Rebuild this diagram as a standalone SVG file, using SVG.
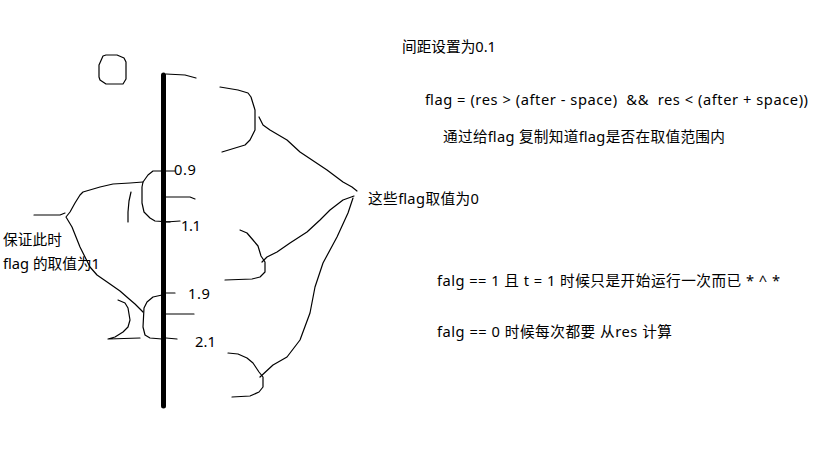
<svg xmlns="http://www.w3.org/2000/svg" width="819" height="460" viewBox="0 0 819 460">
<style>
.s{fill:none;stroke:#000;stroke-width:1.2;stroke-linejoin:round;stroke-linecap:round}
.t{font-family:"Noto Sans","Noto Sans CJK SC",sans-serif;font-size:14.67px;fill:#000;white-space:pre}
</style>
<rect width="819" height="460" fill="#fff"/>
<g id="circle">
<path class="s" d="M103,56 L106,55 L117,55 L124,58 L126,62 L126,79 L123,84 L106,84 L100,80 L99,77 L99,65 Z"/>
</g>
<g id="axis">
<line x1="163.5" y1="75" x2="163.5" y2="406" stroke="#000" stroke-width="5" stroke-linecap="round"/>
<path class="s" d="M166,74 L185,75 L196,78"/>
<path class="s" d="M166,171 L175,171"/>
<path class="s" d="M166,197 L190,197 L195,199"/>
<path class="s" d="M166,222 L180,221"/>
<path class="s" d="M166,293 L175,293"/>
<path class="s" d="M166,314 L194,314"/>
<path class="s" d="M166,338 L177,339"/>
</g>
<g id="labels-axis">
<text class="t" x="174" y="175" textLength="22" lengthAdjust="spacing">0.9</text>
<text class="t" x="181" y="231" textLength="20" lengthAdjust="spacing">1.1</text>
<text class="t" x="188" y="299" textLength="22" lengthAdjust="spacing">1.9</text>
<text class="t" x="195" y="347" textLength="21" lengthAdjust="spacing">2.1</text>
</g>
<g id="brackets">
<path class="s" d="M220,87 L238,90 L248,93 L251,97 L255,110 L255,130 L250,140 L245,145 L222,152"/>
<path class="s" d="M240,230 L247,233 L253,240 L258,246 L261,256 L265,262 L265,272 L260,277 L252,279 L225,280"/>
<path class="s" d="M228,353 L238,354 L247,358 L253,363 L259,372 L263,377 L263,387 L259,392 L250,396 L232,397"/>
<path class="s" d="M162,171 L153,171 L148,175 L143,182 L142,187 L142,203 L144,212 L150,218 L155,221 L170,222"/>
<path class="s" d="M162,295 L153,297 L147,302 L144,308 L143,327 L145,335 L150,338 L162,339"/>
<path class="s" d="M118,300 L125,303 L128,308 L130,320 L128,327 L123,332 L115,337 L108,339 L140,338"/>
<path class="s" d="M131,192 L129,201 L128,212 L128,222"/>
</g>
<g id="connectors">
<path class="s" d="M259,117 L263,125 L270,130 L287,140 L300,152 L312,160 L327,170 L343,182 L352,187 L357,191"/>
<path class="s" d="M354,196 L343,200 L330,210 L320,220 L307,232 L290,243 L277,252 L267,257 L262,262"/>
<path class="s" d="M353,198 L348,213 L337,237 L323,263 L315,287 L310,313 L300,340 L287,357 L273,365 L260,377"/>
<path class="s" d="M143,182 L130,183 L113,184 L100,187 L83,192 L80,195 L75,203 L70,212 L66,217 L72,227 L80,247 L90,267 L97,275 L110,284 L120,291 L128,298 L135,304 L143,312"/>
<path class="s" d="M34,215 L60,215 L65,213"/>
</g>
<g id="notes">
<text class="t" x="3" y="245" textLength="59" lengthAdjust="spacing">保证此时</text>
<text class="t" x="3" y="269" textLength="97" lengthAdjust="spacing">flag 的取值为1</text>
<text class="t" x="402" y="52" textLength="94" lengthAdjust="spacing">间距设置为0.1</text>
<text class="t" x="425" y="105" textLength="383" lengthAdjust="spacing">flag = (res &gt; (after - space)  &amp;&amp;  res &lt; (after + space))</text>
<text class="t" x="443" y="142" textLength="282" lengthAdjust="spacing">通过给flag 复制知道flag是否在取值范围内</text>
<text class="t" x="368" y="204" textLength="111" lengthAdjust="spacing">这些flag取值为0</text>
<text class="t" x="437" y="286" textLength="343" lengthAdjust="spacing">falg == 1 且 t = 1 时候只是开始运行一次而已 * ^ *</text>
<text class="t" x="437" y="337" textLength="235" lengthAdjust="spacing">falg == 0 时候每次都要 从res 计算</text>
</g>
</svg>
